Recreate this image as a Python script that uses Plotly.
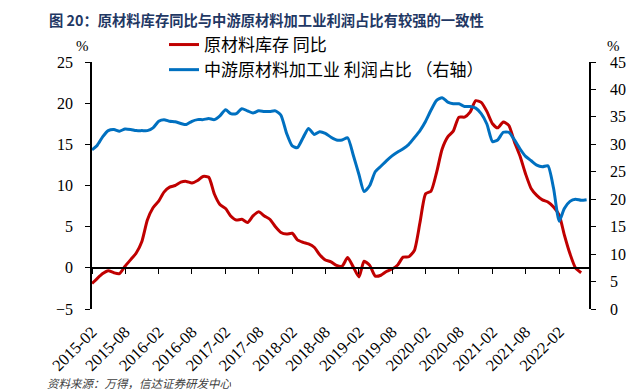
import pandas as pd
import plotly.graph_objects as go

months = pd.date_range("2015-02-01", periods=90, freq="MS").strftime("%Y-%m-%d").tolist()

inventory_yoy = [
    -1.9, -1.3, -0.7, -0.35, -0.6, -0.7, 0.2, 1.0, 1.8, 3.2,
    5.8, 7.3, 8.1, 9.2, 9.8, 10.0, 10.4, 10.5, 10.3, 10.6,
    11.1, 11.0, 9.0, 7.7, 7.2, 6.3, 5.8, 5.9, 5.5, 6.3,
    6.8, 6.3, 5.9, 5.0, 4.3, 4.1, 4.2, 3.4, 3.1, 2.9,
    2.5, 1.6, 0.95, 0.73, 0.3, 0.2, 1.25, 0.1, -1.1, 0.8,
    0.3, -1.0, -0.9, -0.45, -0.15, 0.35, 1.3, 1.35, 2.1, 5.5,
    9.0, 9.3, 11.6, 14.4, 15.9, 16.6, 18.3, 18.3, 18.9, 20.3,
    20.1, 19.0, 17.5, 17.0, 17.7, 17.3, 15.3, 13.6, 11.4, 9.6,
    8.8, 8.25, 8.0, 7.4, 6.4, 4.0, 1.7, 0.0, -0.6,
]

profit_share = [
    29.0, 29.8, 31.4, 32.5, 32.7, 32.4, 32.8, 32.7, 32.5, 32.5,
    32.5, 33.0, 34.2, 34.5, 34.2, 34.1, 33.8, 33.6, 34.2, 34.5,
    34.5, 34.7, 34.5, 35.2, 36.3, 35.6, 35.6, 36.5, 36.1, 35.7,
    36.1, 36.0, 36.0, 36.1, 35.3, 32.0, 29.7, 29.4, 31.2, 32.9,
    31.8, 32.3, 32.0, 31.3, 30.8, 30.8, 31.2, 28.0, 24.5, 21.4,
    22.5, 25.0, 26.0, 27.0, 27.9, 28.6, 29.2, 30.0, 31.2, 32.5,
    34.2, 36.2, 38.0, 38.5, 37.7, 37.4, 37.4, 36.9, 36.9, 36.6,
    35.6, 33.7, 30.5, 30.8, 32.2, 32.2, 30.8, 29.2, 27.8, 27.0,
    26.2, 25.9, 26.1, 22.0, 16.0, 18.3, 19.6, 20.0, 19.8, 19.9,
]

title_text = "图 20：原材料库存同比与中游原材料加工业利润占比有较强的一致性"
source_text = "资料来源：万得，信达证券研发中心"
name_red = "原材料库存 同比"
name_blue = "中游原材料加工业 利润占比 （右轴）"

# the page body adds an 8px offset; size the figure so it ends at the window edge
OFF = 8
WIN_W, WIN_H = 634, 389
W, H = WIN_W - OFF, WIN_H - OFF
PLOT_L, PLOT_R, PLOT_T, PLOT_B = 92, 589, 62, 309   # plot area in window pixels
ML, MT = PLOT_L - OFF, PLOT_T - OFF
MR, MB = WIN_W - PLOT_R, WIN_H - PLOT_B
PW, PH = PLOT_R - PLOT_L, PLOT_B - PLOT_T

def px_x(p):
    return (p - PLOT_L) / PW

def px_y(p):
    return (PLOT_B - p) / PH

serif = "Liberation Serif, Times New Roman, serif"
cjk = "Noto Sans CJK SC, sans-serif"
xrange = ["2015-02-01", "2022-07-14"]

fig = go.Figure()
fig.add_trace(go.Scatter(
    x=months[:len(inventory_yoy)], y=inventory_yoy, name=name_red,
    mode="lines", line=dict(color="#C00000", width=3, shape="spline", smoothing=0.6),
    xaxis="x", yaxis="y",
))
fig.add_trace(go.Scatter(
    x=months[:len(profit_share)], y=profit_share, name=name_blue,
    mode="lines", line=dict(color="#0070C0", width=3, shape="spline", smoothing=0.6),
    xaxis="x", yaxis="y2",
))
# empty helper trace so the zero-line axis (ticks at y=0) is created
fig.add_trace(go.Scatter(
    x=[], y=[], xaxis="x2", yaxis="y", showlegend=False, hoverinfo="skip", mode="lines",
))

fig.update_layout(
    width=W, height=H,
    margin=dict(l=ML, r=MR, t=MT, b=MB, autoexpand=False),
    paper_bgcolor="white", plot_bgcolor="white",
    showlegend=True,
    legend=dict(
        x=px_x(164), y=px_y(27), xanchor="left", yanchor="top",
        font=dict(family=cjk, size=17, color="#000000"),
        bgcolor="rgba(0,0,0,0)", tracegroupgap=0, itemwidth=30,
    ),
    xaxis=dict(
        type="date", range=xrange, tick0="2015-02-01", dtick="M6",
        tickformat="%Y-%m", tickangle=-45, showline=False, ticks="",
        showgrid=False, zeroline=False,
        tickfont=dict(family=serif, size=16.5, color="#000000"),
        ticklabelstandoff=9,
    ),
    xaxis2=dict(
        type="date", range=xrange, tick0="2015-02-01", dtick="M6",
        overlaying="x", anchor="free", position=1/6,
        showline=True, linecolor="#000000", linewidth=1.5,
        ticks="outside", ticklen=5, tickwidth=1.3, tickcolor="#000000",
        showticklabels=False, showgrid=False, zeroline=False,
    ),
    yaxis=dict(
        range=[-5, 25], dtick=5, tick0=0, showline=True, linecolor="#000000",
        linewidth=1.5, ticks="outside", ticklen=5, tickwidth=1.3, tickcolor="#000000",
        showgrid=False, zeroline=False,
        tickfont=dict(family=serif, size=16, color="#000000"),
        ticklabelstandoff=9,
    ),
    yaxis2=dict(
        range=[0, 45], dtick=5, tick0=0, overlaying="y", side="right", anchor="x",
        showline=True, linecolor="#000000", linewidth=1.5,
        ticks="outside", ticklen=5, tickwidth=1.3, tickcolor="#000000",
        showgrid=False, zeroline=False,
        tickfont=dict(family=serif, size=16, color="#000000"),
        ticklabelstandoff=11,
    ),
    annotations=[
        dict(text="<b>" + title_text + "</b>", xref="paper", yref="paper",
             x=px_x(47), y=px_y(20), xanchor="left", yanchor="middle", showarrow=False,
             font=dict(family=cjk, size=14.3, color="#1F3864")),
        dict(text="%", xref="paper", yref="paper", x=px_x(82), y=px_y(46),
             xanchor="center", yanchor="middle", showarrow=False,
             font=dict(family=serif, size=15, color="#000000")),
        dict(text="%", xref="paper", yref="paper", x=px_x(613), y=px_y(46),
             xanchor="center", yanchor="middle", showarrow=False,
             font=dict(family=serif, size=15, color="#000000")),
        dict(text="<i>" + source_text + "</i>", xref="paper", yref="paper",
             x=px_x(46), y=px_y(375), xanchor="left", yanchor="top", showarrow=False,
             height=13, valign="middle", borderpad=0,
             font=dict(family=cjk, size=11.5, color="#404040")),
    ],
)

fig.write_html("out.html")
